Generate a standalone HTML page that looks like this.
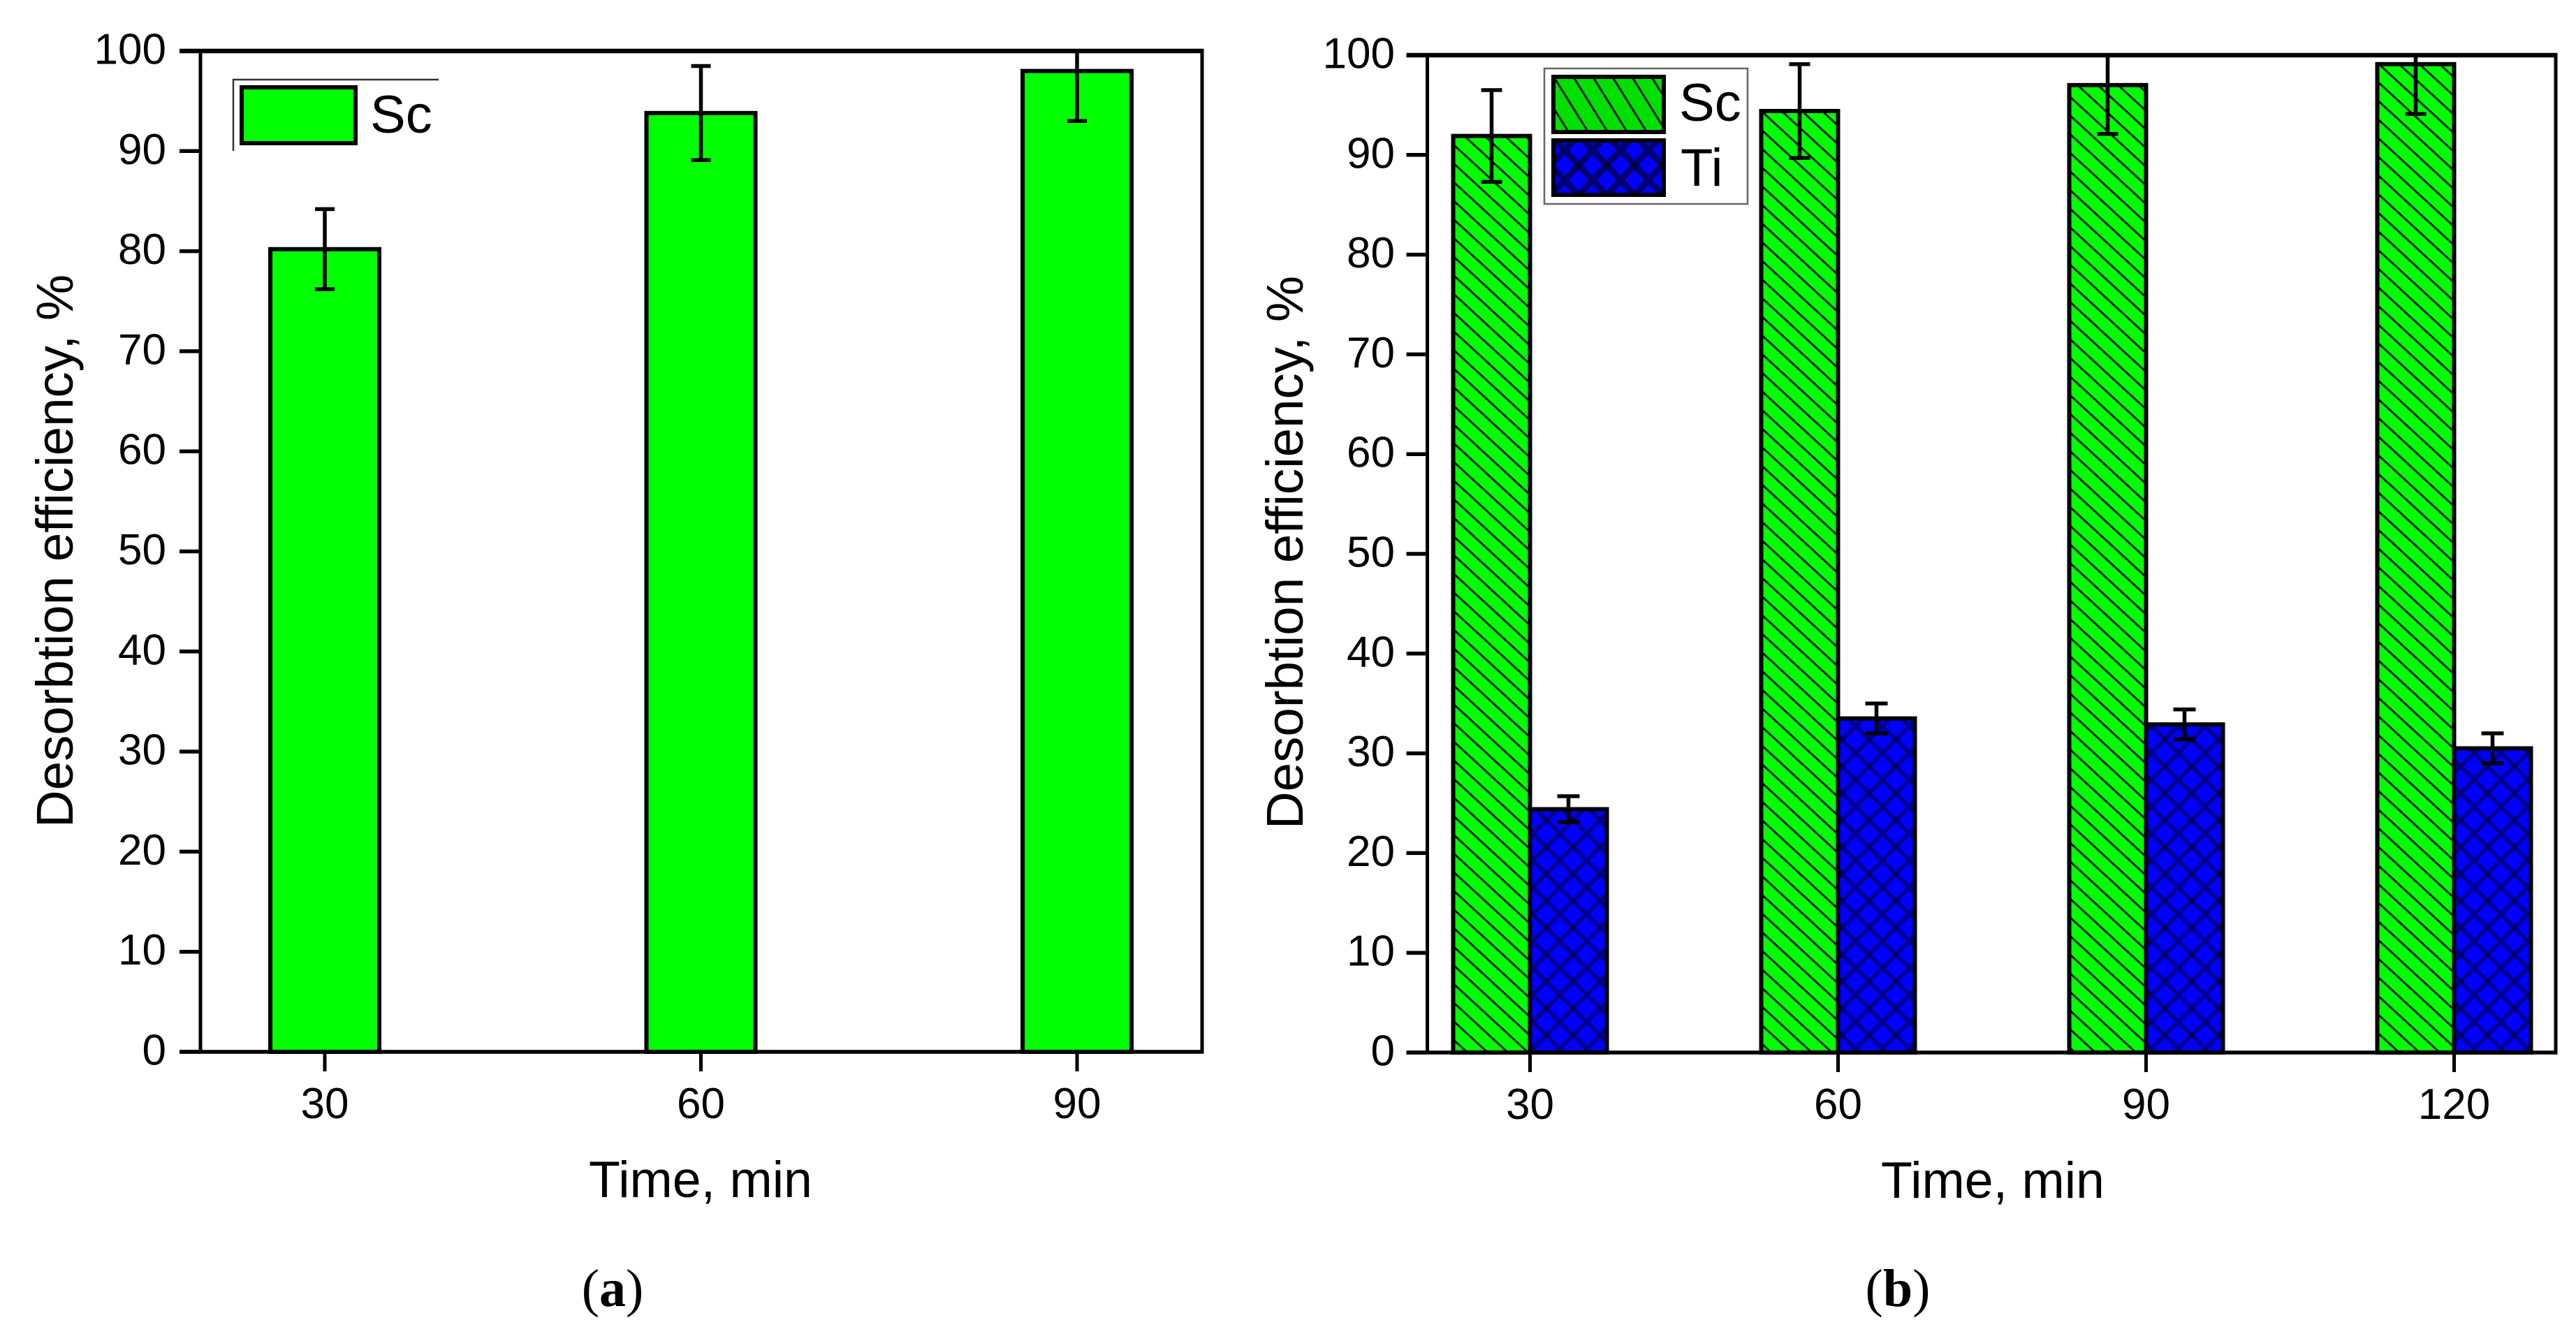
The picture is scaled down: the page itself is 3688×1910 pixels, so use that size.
<!DOCTYPE html>
<html lang="en">
<head>
<meta charset="utf-8">
<title>Desorption efficiency of Sc and Ti over time</title>
<style>
  html, body { margin: 0; padding: 0; background: #fff; }
  svg { display: block; font-family: "Liberation Sans", sans-serif; }
  .tick { font-size: 62px; fill: #000; }
  .axis-title { font-size: 73.5px; fill: #000; }
  .y-title { font-size: 74.5px; fill: #000; }
  .legend-text { font-size: 76px; fill: #000; }
  .panel-label { font-family: "Liberation Serif", serif; font-size: 76px; fill: #000; text-anchor: middle; }
</style>
</head>
<body>
<svg id="figure" xmlns="http://www.w3.org/2000/svg" width="3688" height="1910" viewBox="0 0 3688 1910">
  <defs>
    <pattern id="hatch-bar" patternUnits="userSpaceOnUse" width="29" height="26.7">
      <rect width="29" height="26.7" fill="#00ff00"/>
      <path d="M0,0 L29,26.7 M-29,0 L0,26.7 M29,0 L58,26.7 M0,-26.7 L29,0 M0,26.7 L29,53.4" stroke="#011f01" stroke-width="3"/>
    </pattern>
    <pattern id="cross-bar" patternUnits="userSpaceOnUse" width="38.5" height="38.5">
      <rect width="38.5" height="38.5" fill="#0000ff"/>
      <g stroke="#000033" stroke-width="6" stroke-opacity="0.55">
        <path d="M-5,-5 L43.5,43.5"/>
        <path d="M43.5,-5 L-5,43.5"/>
      </g>
    </pattern>
    <pattern id="hatch-legend" patternUnits="userSpaceOnUse" width="28" height="45">
      <rect width="28" height="45" fill="#00e000"/>
      <path d="M0,0 L28,45 M-28,0 L0,45 M28,0 L56,45" stroke="#011f01" stroke-width="3"/>
    </pattern>
    <pattern id="cross-legend" patternUnits="userSpaceOnUse" width="40" height="43">
      <rect width="40" height="43" fill="#0000ff"/>
      <g stroke="#000033" stroke-width="9" stroke-opacity="0.7">
        <path d="M0,0 L40,43"/>
        <path d="M40,0 L0,43"/>
      </g>
    </pattern>
  </defs>

  <rect width="3688" height="1910" fill="#ffffff"/>

  <g id="panel-a"></g>
  <g id="panel-b"></g>

  <text class="y-title" transform="translate(104 789) rotate(-90)" text-anchor="middle">Desorbtion efficiency, %</text>
  <text class="axis-title" x="1003" y="1714" text-anchor="middle">Time, min</text>
  <text class="panel-label" x="877" y="1870">(<tspan font-weight="bold">a</tspan>)</text>

  <text class="y-title" transform="translate(1865 791) rotate(-90)" text-anchor="middle">Desorbtion efficiency, %</text>
  <text class="axis-title" x="2853" y="1715" text-anchor="middle">Time, min</text>
  <text class="panel-label" x="2717" y="1870">(<tspan font-weight="bold">b</tspan>)</text>

  <g>
    <path d="M334,216 L334,114 L628,114" fill="none" stroke="#333333" stroke-width="2.5"/>
    <rect x="346" y="125" width="163" height="80" fill="#00ff00" stroke="#000000" stroke-width="6"/>
    <text class="legend-text" x="530" y="190">Sc</text>
  </g>

  <g>
    <rect x="2211" y="98" width="291" height="194" fill="#ffffff" stroke="#666666" stroke-width="2.5"/>
    <rect x="2224" y="110" width="158" height="79" fill="url(#hatch-legend)" stroke="#000000" stroke-width="6"/>
    <rect x="2224" y="201" width="158" height="78" fill="url(#cross-legend)" stroke="#000000" stroke-width="6"/>
    <text class="legend-text" x="2404" y="173">Sc</text>
    <text class="legend-text" x="2406" y="266">Ti</text>
  </g>
</svg>

<script>
// Shared y-axis tick labels
const yTicks = [0, 10, 20, 30, 40, 50, 60, 70, 80, 90, 100];

// Panel (a) data
const aCategories = ['30', '60', '90'];
const aSc = [80.2, 93.8, 98.0];
const aScErr = [4.0, 4.7, 5.0];

// Panel (b) data
const bCategories = ['30', '60', '90', '120'];
const bSc = [91.9, 94.4, 97.0, 99.1];
const bScErr = [4.6, 4.7, 4.9, 5.0];
const bTi = [24.4, 33.5, 32.9, 30.5];
const bTiErr = [1.3, 1.5, 1.5, 1.5];

const SVG_NS = 'http://www.w3.org/2000/svg';

// Axis functions
function aX(i) { return 465 + i * 538.5; }
function aY(v) { return 1506 - v * 14.33; }
function bX(i) { return 2190.5 + i * 441; }
function bY(v) { return 1507 - v * 14.28; }

function make(tag, parent, attrs) {
  const el = document.createElementNS(SVG_NS, tag);
  for (const k in attrs) el.setAttribute(k, attrs[k]);
  parent.appendChild(el);
  return el;
}

function drawBar(parent, x, width, value, yFn, fill, name) {
  const el = make('rect', parent, {
    x: x, y: yFn(value), width: width, height: yFn(0) - yFn(value),
    fill: fill, stroke: '#000000', 'stroke-width': 6
  });
  
  
}

function drawError(parent, cx, value, err, yFn, capHalf, name) {
  const top = yFn(value + err);
  const bottom = yFn(value - err);
  const limit = yFn(100);
  const g = make('g', parent, {});
  
  
  make('line', g, { x1: cx, x2: cx, y1: Math.max(top, limit), y2: bottom, stroke: '#000000', 'stroke-width': 5.5 });
  make('line', g, { x1: cx - capHalf, x2: cx + capHalf, y1: bottom, y2: bottom, stroke: '#000000', 'stroke-width': 5.5 });
  if (top >= limit) {
    make('line', g, { x1: cx - capHalf, x2: cx + capHalf, y1: top, y2: top, stroke: '#000000', 'stroke-width': 5.5 });
  }
}

function drawAxes(parent, xLeft, xRight, yFn, xFn, categories, suffix, labelRight) {
  const y0 = yFn(0), y100 = yFn(100);
  const tickLeft = xLeft - 30;
  make('line', parent, { x1: xLeft, x2: xLeft, y1: y100, y2: y0, stroke: '#000', 'stroke-width': 5 });
  make('line', parent, { x1: xRight, x2: xRight, y1: y100, y2: y0, stroke: '#000', 'stroke-width': 5 });
  make('line', parent, { x1: tickLeft, x2: xRight + 2.5, y1: y100, y2: y100, stroke: '#000', 'stroke-width': 6.5 });
  make('line', parent, { x1: tickLeft, x2: xRight + 2.5, y1: y0, y2: y0, stroke: '#000', 'stroke-width': 5.5 });

  yTicks.forEach(function (t) {
    const ty = yFn(t);
    const tick = make('line', parent, { x1: tickLeft, x2: xLeft, y1: ty, y2: ty, stroke: '#000', 'stroke-width': 5.5 });
    
    
    const label = make('text', parent, { class: 'tick', x: labelRight, y: ty + 18.5, 'text-anchor': 'end' });
    
    
    label.textContent = t;
  });

  categories.forEach(function (c, i) {
    const tx = xFn(i);
    const tick = make('line', parent, { x1: tx, x2: tx, y1: y0, y2: y0 + 28, stroke: '#000', 'stroke-width': 5 });
    
    
    const label = make('text', parent, { class: 'tick', x: tx, y: y0 + 95, 'text-anchor': 'middle' });
    
    
    label.textContent = c;
  });
}

// Panel (a)
const panelA = document.getElementById('panel-a');
aSc.forEach(function (v, i) {
  drawBar(panelA, aX(i) - 78, 156, v, aY, '#00ff00', 'bar-sc-' + aCategories[i]);
});
aSc.forEach(function (v, i) {
  drawError(panelA, aX(i), v, aScErr[i], aY, 14, 'error-bar-sc-' + aCategories[i]);
});
drawAxes(panelA, 287, 1721, aY, aX, aCategories, 'a', 238);

// Panel (b)
const panelB = document.getElementById('panel-b');
const bBarWidth = 110;
bSc.forEach(function (v, i) {
  drawBar(panelB, bX(i) - bBarWidth, bBarWidth, v, bY, 'url(#hatch-bar)', 'bar-sc-' + bCategories[i]);
});
bTi.forEach(function (v, i) {
  drawBar(panelB, bX(i), bBarWidth, v, bY, 'url(#cross-bar)', 'bar-ti-' + bCategories[i]);
});
bSc.forEach(function (v, i) {
  drawError(panelB, bX(i) - bBarWidth / 2, v, bScErr[i], bY, 15, 'error-bar-sc-' + bCategories[i]);
});
bTi.forEach(function (v, i) {
  drawError(panelB, bX(i) + bBarWidth / 2, v, bTiErr[i], bY, 16, 'error-bar-ti-' + bCategories[i]);
});
drawAxes(panelB, 2043.5, 3659, bY, bX, bCategories, 'b', 1997);
</script>
</body>
</html>
